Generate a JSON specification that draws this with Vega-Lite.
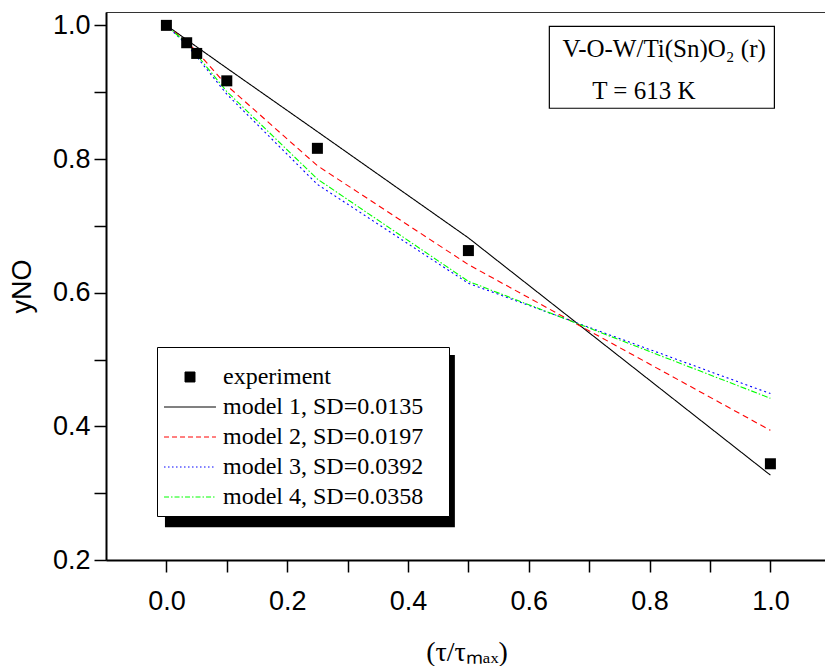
{
  "$schema": "https://vega.github.io/schema/vega-lite/v6.json",
  "width": 721,
  "height": 548,
  "autosize": {"type": "none"},
  "padding": {"left": 106, "top": 12, "right": 0, "bottom": 106},
  "background": "white",
  "config": {
    "view": {"stroke": "#333", "strokeWidth": 1},
    "axis": {
      "domainColor": "black", "domainWidth": 2, "tickColor": "black", "tickWidth": 1.5, "tickSize": 12,
      "labelColor": "black", "labelFont": "Liberation Sans", "labelFontSize": 27,
      "grid": false, "titleColor": "black", "titleFontWeight": "normal",
      "labelOverlap": false, "labelFlush": false, "labelBound": false
    }
  },
  "datasets": {
    "exp": [
      {"t": 0.0, "y": 1.0},
      {"t": 0.0336, "y": 0.974},
      {"t": 0.0502, "y": 0.958},
      {"t": 0.1, "y": 0.917},
      {"t": 0.25, "y": 0.816},
      {"t": 0.5, "y": 0.663},
      {"t": 1.0, "y": 0.344}
    ],
    "models": [
      {"series": "model 1, SD=0.0135", "t": 0.0, "y": 1.0},
      {"series": "model 1, SD=0.0135", "t": 0.1, "y": 0.936},
      {"series": "model 1, SD=0.0135", "t": 0.25, "y": 0.841},
      {"series": "model 1, SD=0.0135", "t": 0.5, "y": 0.682},
      {"series": "model 1, SD=0.0135", "t": 1.0, "y": 0.327},
      {"series": "model 2, SD=0.0197", "t": 0.0, "y": 1.0},
      {"series": "model 2, SD=0.0197", "t": 0.0336, "y": 0.975},
      {"series": "model 2, SD=0.0197", "t": 0.0502, "y": 0.961},
      {"series": "model 2, SD=0.0197", "t": 0.1, "y": 0.910},
      {"series": "model 2, SD=0.0197", "t": 0.25, "y": 0.790},
      {"series": "model 2, SD=0.0197", "t": 0.5, "y": 0.642},
      {"series": "model 2, SD=0.0197", "t": 1.0, "y": 0.394},
      {"series": "model 3, SD=0.0392", "t": 0.0, "y": 1.0},
      {"series": "model 3, SD=0.0392", "t": 0.0336, "y": 0.971},
      {"series": "model 3, SD=0.0392", "t": 0.0502, "y": 0.953},
      {"series": "model 3, SD=0.0392", "t": 0.1, "y": 0.897},
      {"series": "model 3, SD=0.0392", "t": 0.25, "y": 0.762},
      {"series": "model 3, SD=0.0392", "t": 0.5, "y": 0.614},
      {"series": "model 3, SD=0.0392", "t": 1.0, "y": 0.449},
      {"series": "model 4, SD=0.0358", "t": 0.0, "y": 1.0},
      {"series": "model 4, SD=0.0358", "t": 0.0336, "y": 0.973},
      {"series": "model 4, SD=0.0358", "t": 0.0502, "y": 0.956},
      {"series": "model 4, SD=0.0358", "t": 0.1, "y": 0.901},
      {"series": "model 4, SD=0.0358", "t": 0.25, "y": 0.770},
      {"series": "model 4, SD=0.0358", "t": 0.5, "y": 0.617},
      {"series": "model 4, SD=0.0358", "t": 1.0, "y": 0.442}
    ],
    "shadow": [{"x1": -0.0024, "x2": 0.4776, "y1": 0.5068, "y2": 0.249}],
    "box": [{"x1": 0.634, "x2": 1.0066, "y1": 0.9985, "y2": 0.876}],
    "notes": [
      {"t": 0.6556, "y": 0.952, "label": "V-O-W/Ti(Sn)O₂ (r)"},
      {"t": 0.705, "y": 0.8896, "label": "T = 613 K"}
    ]
  },
  "layer": [
    {
      "data": {"name": "shadow"},
      "mark": {"type": "rect", "fill": "black"},
      "encoding": {
        "x": {"field": "x1", "type": "quantitative", "scale": {"domain": [-0.1, 1.0937], "nice": false, "zero": false}},
        "x2": {"field": "x2"},
        "y": {"field": "y1", "type": "quantitative", "scale": {"domain": [0.2, 1.02], "nice": false, "zero": false}},
        "y2": {"field": "y2"}
      }
    },
    {
      "data": {"name": "models"},
      "mark": {"type": "line", "strokeWidth": 1.1},
      "encoding": {
        "x": {
          "field": "t", "type": "quantitative",
          "axis": {
            "values": [0, 0.1, 0.2, 0.3, 0.4, 0.5, 0.6, 0.7, 0.8, 0.9, 1.0],
            "labelExpr": "round(datum.value*10)%2==0 ? format(datum.value,'.1f') : ''",
            "labelPadding": 16,
            "title": "(τ/τₘₐₓ)",
            "titleFont": "Liberation Serif", "titleFontSize": 28, "titlePadding": 24,
            "encode": {"ticks": {"update": {"y2": {"signal": "round(datum.value*10)%2==1 ? 7 : 12"}}}}
          }
        },
        "y": {
          "field": "y", "type": "quantitative",
          "axis": {
            "values": [0.2, 0.3, 0.4, 0.5, 0.6, 0.7, 0.8, 0.9, 1.0],
            "labelExpr": "round(datum.value*10)%2==0 ? format(datum.value,'.1f') : ''",
            "labelPadding": 4,
            "title": "yNO",
            "titleFont": "Liberation Sans", "titleFontSize": 27, "titlePadding": 16,
            "encode": {"ticks": {"update": {"x2": {"signal": "round(datum.value*10)%2==1 ? -7 : -12"}}}}
          }
        },
        "color": {
          "field": "series", "type": "nominal",
          "scale": {
            "domain": ["experiment", "model 1, SD=0.0135", "model 2, SD=0.0197", "model 3, SD=0.0392", "model 4, SD=0.0358"],
            "range": ["black", "black", "#ff0000", "#0000ff", "#00ff00"]
          },
          "legend": {
            "orient": "none", "legendX": 51, "legendY": 335, "zindex": 1,
            "title": " ", "titleFontSize": 11, "titlePadding": 0,
            "padding": 7, "strokeColor": "black", "fillColor": "white",
            "labelFont": "Liberation Serif", "labelFontSize": 24, "labelColor": "black",
            "labelLimit": 400, "labelOffset": 35, "rowPadding": 6,
            "symbolSize": 108, "symbolType": "stroke",
            "labelExpr": "datum.label + '\u2800'",
            "encode": {
              "symbols": {
                "update": {
                  "x": {"value": 26},
                  "shape": {"signal": "datum.value === 'experiment' ? 'M-0.96,-0.96H0.96V0.96H-0.96Z' : 'M-5,0H5'"},
                  "size": {"value": 108},
                  "fill": {"signal": "datum.value === 'experiment' ? 'black' : 'transparent'"},
                  "stroke": {"signal": "datum.value === 'experiment' ? 'transparent' : datum.value === 'model 2, SD=0.0197' ? '#ff0000' : datum.value === 'model 3, SD=0.0392' ? '#0000ff' : datum.value === 'model 4, SD=0.0358' ? '#00ff00' : 'black'"},
                  "strokeDash": {"signal": "datum.value === 'model 2, SD=0.0197' ? [5, 3] : datum.value === 'model 3, SD=0.0392' ? [1.5, 2.5] : datum.value === 'model 4, SD=0.0358' ? [5, 2, 1.5, 2] : [1, 0]"},
                  "strokeWidth": {"value": 1},
                  "opacity": {"value": 1}
                }
              }
            }
          }
        },
        "strokeDash": {
          "field": "series", "type": "nominal", "legend": null,
          "scale": {
            "domain": ["model 1, SD=0.0135", "model 2, SD=0.0197", "model 3, SD=0.0392", "model 4, SD=0.0358"],
            "range": [[1, 0], [6, 4], [2, 3], [6, 2, 1.5, 2]]
          }
        }
      }
    },
    {
      "data": {"name": "exp"},
      "mark": {"type": "square", "size": 121, "color": "black", "opacity": 1},
      "encoding": {
        "x": {"field": "t", "type": "quantitative"},
        "y": {"field": "y", "type": "quantitative"}
      }
    },
    {
      "data": {"name": "box"},
      "mark": {"type": "rect", "fill": "white", "stroke": "black", "strokeWidth": 1.2},
      "encoding": {
        "x": {"field": "x1", "type": "quantitative"},
        "x2": {"field": "x2"},
        "y": {"field": "y1", "type": "quantitative"},
        "y2": {"field": "y2"}
      }
    },
    {
      "data": {"name": "notes"},
      "mark": {"type": "text", "align": "left", "baseline": "alphabetic", "font": "Liberation Serif", "fontSize": 25, "color": "black"},
      "encoding": {
        "x": {"field": "t", "type": "quantitative"},
        "y": {"field": "y", "type": "quantitative"},
        "text": {"field": "label"}
      }
    }
  ]
}
